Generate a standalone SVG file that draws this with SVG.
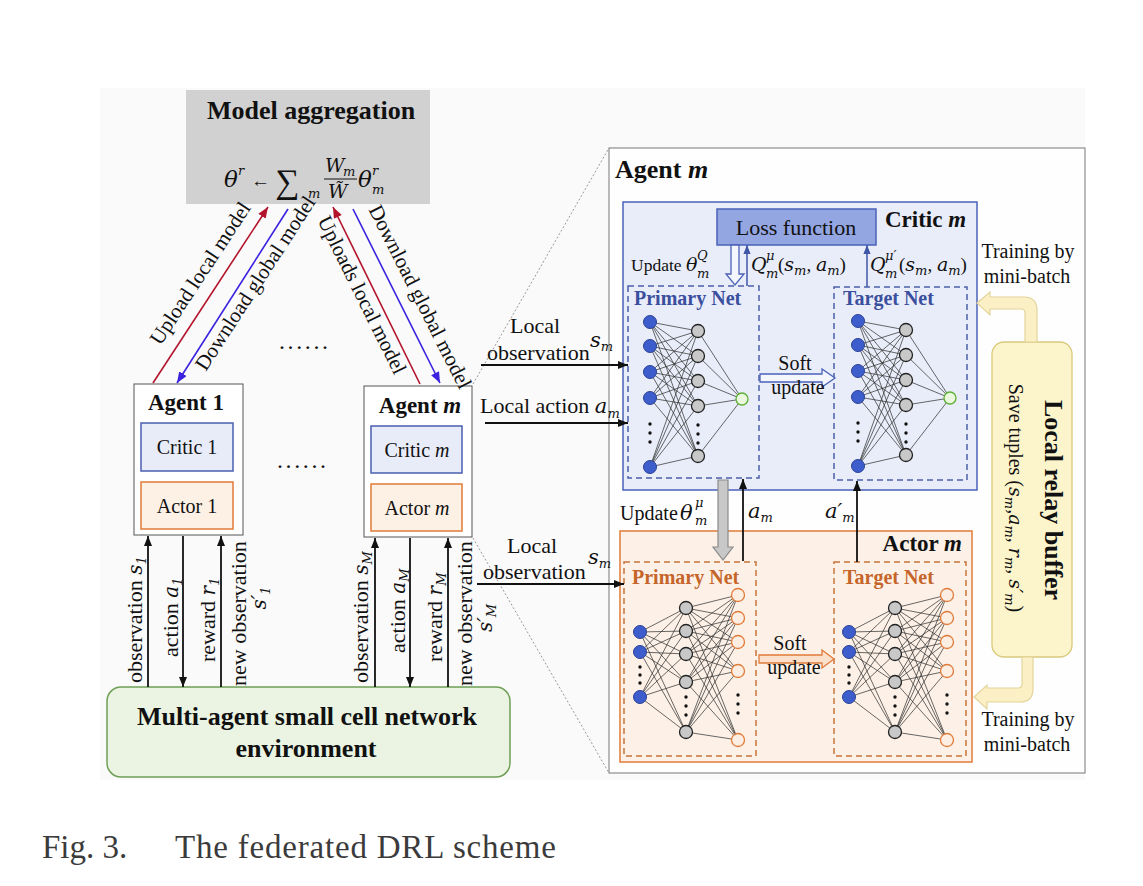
<svg xmlns="http://www.w3.org/2000/svg" width="1143" height="886" viewBox="0 0 1143 886">
<style>
text{font-family:"Liberation Serif","Times New Roman",serif;fill:#111}
.b{font-weight:bold}
.f20{font-size:20px}
.f21{font-size:21px}
.f22{font-size:22px}
.f26{font-size:26px}
.m{font-family:"DejaVu Serif","Liberation Serif",serif;font-style:italic}
.ms{font-family:"DejaVu Serif","Liberation Serif",serif;font-style:italic;font-size:13px}
.nl{stroke:#2a2a2a;stroke-width:0.7;fill:none}
.bn{fill:#3e5dcc;stroke:#2b4296;stroke-width:1}
.gn{fill:#c8c8c8;stroke:#222;stroke-width:1.3}
.grn{fill:#eaf8de;stroke:#5db034;stroke-width:1.3}
.on{fill:#fdeee3;stroke:#e07b39;stroke-width:1.3}
.dot{fill:#111}
.blk{stroke:#111;stroke-width:1.8;fill:none}
.cdash{fill:none;stroke:#4a5fa8;stroke-width:1.5;stroke-dasharray:6 4}
.adash{fill:none;stroke:#c8733a;stroke-width:1.5;stroke-dasharray:6 4}
.cnt{fill:#3a4f9e;font-weight:bold;font-size:20px}
.ant{fill:#c5652a;font-weight:bold;font-size:20px}
</style>
<defs>
<marker id="ah" viewBox="0 0 10 8" refX="10" refY="4" markerWidth="10" markerHeight="8" markerUnits="userSpaceOnUse" orient="auto"><path d="M0 0L10 4L0 8z" fill="#111"/></marker>
<marker id="ahr" viewBox="0 0 10 8" refX="10" refY="4" markerWidth="11" markerHeight="9" markerUnits="userSpaceOnUse" orient="auto"><path d="M0 0L10 4L0 8z" fill="#b3142c"/></marker>
<marker id="ahv" viewBox="0 0 10 8" refX="10" refY="4" markerWidth="11" markerHeight="9" markerUnits="userSpaceOnUse" orient="auto"><path d="M0 0L10 4L0 8z" fill="#3b22e0"/></marker>
<marker id="ahc" viewBox="0 0 10 8" refX="10" refY="4" markerWidth="9" markerHeight="8" markerUnits="userSpaceOnUse" orient="auto"><path d="M0 0L10 4L0 8z" fill="#3f56a8"/></marker>
<g id="cnet">
<path class="nl" d="M650 322L698 331M650 322L698 356M650 322L698 381M650 322L698 406M650 322L698 456M650 346L698 331M650 346L698 356M650 346L698 381M650 346L698 406M650 346L698 456M650 372L698 331M650 372L698 356M650 372L698 381M650 372L698 406M650 372L698 456M650 398L698 331M650 398L698 356M650 398L698 381M650 398L698 406M650 398L698 456M650 467L698 331M650 467L698 356M650 467L698 381M650 467L698 406M650 467L698 456M698 331L742 399M698 356L742 399M698 381L742 399M698 406L742 399M698 456L742 399"/>
<circle class="bn" cx="650" cy="322" r="6.5"/><circle class="bn" cx="650" cy="346" r="6.5"/><circle class="bn" cx="650" cy="372" r="6.5"/><circle class="bn" cx="650" cy="398" r="6.5"/><circle class="bn" cx="650" cy="467" r="6.5"/>
<circle class="dot" cx="650" cy="424" r="1.7"/><circle class="dot" cx="650" cy="433" r="1.7"/><circle class="dot" cx="650" cy="442" r="1.7"/>
<circle class="gn" cx="698" cy="331" r="6.5"/><circle class="gn" cx="698" cy="356" r="6.5"/><circle class="gn" cx="698" cy="381" r="6.5"/><circle class="gn" cx="698" cy="406" r="6.5"/><circle class="gn" cx="698" cy="456" r="6.5"/>
<circle class="dot" cx="698" cy="425" r="1.7"/><circle class="dot" cx="698" cy="434" r="1.7"/><circle class="dot" cx="698" cy="443" r="1.7"/>
<circle class="grn" cx="742" cy="399" r="6"/>
</g>
<g id="anet">
<path class="nl" d="M640 632L686 608M640 632L686 631M640 632L686 654M640 632L686 682M640 632L686 732M640 652L686 608M640 652L686 631M640 652L686 654M640 652L686 682M640 652L686 732M640 697L686 608M640 697L686 631M640 697L686 654M640 697L686 682M640 697L686 732M686 608L738 595M686 608L738 618M686 608L738 642M686 608L738 671M686 608L738 740M686 631L738 595M686 631L738 618M686 631L738 642M686 631L738 671M686 631L738 740M686 654L738 595M686 654L738 618M686 654L738 642M686 654L738 671M686 654L738 740M686 682L738 595M686 682L738 618M686 682L738 642M686 682L738 671M686 682L738 740M686 732L738 595M686 732L738 618M686 732L738 642M686 732L738 671M686 732L738 740"/>
<circle class="bn" cx="640" cy="632" r="6.5"/><circle class="bn" cx="640" cy="652" r="6.5"/><circle class="bn" cx="640" cy="697" r="6.5"/>
<circle class="dot" cx="640" cy="667" r="1.7"/><circle class="dot" cx="640" cy="675" r="1.7"/><circle class="dot" cx="640" cy="683" r="1.7"/>
<circle class="gn" cx="686" cy="608" r="6.5"/><circle class="gn" cx="686" cy="631" r="6.5"/><circle class="gn" cx="686" cy="654" r="6.5"/><circle class="gn" cx="686" cy="682" r="6.5"/><circle class="gn" cx="686" cy="732" r="6.5"/>
<circle class="dot" cx="686" cy="697" r="1.7"/><circle class="dot" cx="686" cy="706" r="1.7"/><circle class="dot" cx="686" cy="715" r="1.7"/>
<circle class="on" cx="738" cy="595" r="6.5"/><circle class="on" cx="738" cy="618" r="6.5"/><circle class="on" cx="738" cy="642" r="6.5"/><circle class="on" cx="738" cy="671" r="6.5"/><circle class="on" cx="738" cy="740" r="6.5"/>
<circle class="dot" cx="738" cy="695" r="1.7"/><circle class="dot" cx="738" cy="704" r="1.7"/><circle class="dot" cx="738" cy="713" r="1.7"/>
</g>
</defs>

<rect x="0" y="0" width="1143" height="886" fill="#fff"/>
<rect x="100" y="88" width="985" height="692" fill="#fafafa"/>

<g id="model-aggregation">
<rect x="186" y="90" width="244" height="114" fill="#d2d1d1"/>
<text x="311" y="119" class="b f26" text-anchor="middle">Model aggregation</text>
<text x="224" y="187" class="m" font-size="23">θ</text>
<text x="238" y="175" class="ms" font-size="15">r</text>
<text x="251" y="187" font-family="DejaVu Sans" font-size="19">←</text>
<text x="275" y="193" font-family="DejaVu Serif" font-size="34">∑</text>
<text x="308" y="198" class="ms" font-size="15">m</text>
<text x="325" y="172" class="m" font-size="19">W</text>
<text x="343" y="176" class="ms" font-size="12">m</text>
<line x1="324" y1="179" x2="357" y2="179" stroke="#111" stroke-width="1"/>
<text x="328" y="198" class="m" font-size="19">W̃</text>
<text x="358" y="187" class="m" font-size="23">θ</text>
<text x="372" y="175" class="ms" font-size="15">r</text>
<text x="372" y="194" class="ms" font-size="15">m</text>
</g>

<g id="dots-top"><text x="279" y="349" font-size="24" letter-spacing="2.6">......</text></g>
<g id="dots-mid"><text x="277" y="468" font-size="24" letter-spacing="2.6">......</text></g>

<g id="agent-1">
<rect x="134" y="384" width="109" height="151" fill="#fff" stroke="#555" stroke-width="1"/>
<text x="186" y="410" class="b" font-size="23" text-anchor="middle">Agent 1</text>
<rect x="141" y="423" width="92" height="48" fill="#e8ecf8" stroke="#4a5fb0" stroke-width="1.5"/>
<text x="187" y="454" class="f20" text-anchor="middle">Critic 1</text>
<rect x="141" y="482" width="92" height="47" fill="#fdf0e4" stroke="#e07b39" stroke-width="1.5"/>
<text x="187" y="513" class="f20" text-anchor="middle">Actor 1</text>
</g>

<g id="agent-m-small">
<rect x="364" y="386" width="108" height="151" fill="#fff" stroke="#555" stroke-width="1"/>
<text x="420" y="413" class="b" font-size="23" text-anchor="middle">Agent <tspan font-style="italic">m</tspan></text>
<rect x="371" y="426" width="91" height="47" fill="#e8ecf8" stroke="#4a5fb0" stroke-width="1.5"/>
<text x="417" y="457" class="f20" text-anchor="middle">Critic <tspan font-style="italic">m</tspan></text>
<rect x="371" y="484" width="91" height="47" fill="#fdf0e4" stroke="#e07b39" stroke-width="1.5"/>
<text x="417" y="515" class="f20" text-anchor="middle">Actor <tspan font-style="italic">m</tspan></text>
</g>

<g id="environment">
<rect x="107" y="687" width="403" height="90" rx="14" fill="#ebf4e3" stroke="#6f9f55" stroke-width="1.5"/>
<text x="307" y="725" class="b f26" text-anchor="middle">Multi-agent small cell network</text>
<text x="306" y="757" class="b f26" text-anchor="middle">environment</text>
</g>

<g id="agent-m-detail">
<rect x="609" y="148" width="476" height="625" fill="#fefefe" stroke="#777" stroke-width="1"/>
<text x="615" y="178" class="b f26">Agent <tspan font-style="italic">m</tspan></text>
</g>

<g id="critic-m">
<rect x="623" y="202" width="354" height="288" fill="#e9edf9" stroke="#4a62b8" stroke-width="1.5"/>
<text x="885" y="227" class="b" font-size="23">Critic <tspan font-style="italic">m</tspan></text>
</g>

<g id="loss-function">
<rect x="717" y="209" width="159" height="36" fill="#93a6e2" stroke="#4a62b8" stroke-width="1.5"/>
<text x="796" y="235" class="f22" text-anchor="middle">Loss function</text>
</g>

<g id="critic-primary-net">
<rect x="628" y="286" width="131" height="192" class="cdash"/>
<text x="634" y="305" class="cnt">Primary Net</text>
<use href="#cnet"/>
</g>

<g id="critic-target-net">
<rect x="834" y="287" width="133" height="193" class="cdash"/>
<text x="843" y="305" class="cnt">Target Net</text>
<use href="#cnet" x="208" y="-1"/>
</g>

<g id="actor-m">
<rect x="620" y="531" width="352" height="231" fill="#fdf1e7" stroke="#e07b39" stroke-width="1.5"/>
<text x="962" y="551" class="b" font-size="23" text-anchor="end">Actor <tspan font-style="italic">m</tspan></text>
</g>

<g id="actor-primary-net">
<rect x="624" y="562" width="132" height="194" class="adash"/>
<text x="632" y="584" class="ant">Primary Net</text>
<use href="#anet"/>
</g>

<g id="actor-target-net">
<rect x="834" y="562" width="132" height="194" class="adash"/>
<text x="843" y="584" class="ant">Target Net</text>
<use href="#anet" x="209"/>
</g>

<g id="relay-buffer">
<rect x="992" y="342" width="80" height="315" rx="12" fill="#fcf5cc" stroke="#d9c97c" stroke-width="1.3"/>
<text transform="translate(1045,500) rotate(90)" class="b" font-size="26" text-anchor="middle">Local relay buffer</text>
<text transform="translate(1009,498) rotate(90)" class="f20" text-anchor="middle">Save tuples (<tspan class="m" font-size="19">s</tspan><tspan class="ms" dy="4">m</tspan><tspan dy="-4">,</tspan><tspan class="m" font-size="19">a</tspan><tspan class="ms" dy="4">m</tspan><tspan dy="-4">, </tspan><tspan class="m" font-size="19">r</tspan><tspan class="ms" dy="4">m</tspan><tspan dy="-4">, </tspan><tspan class="m" font-size="19">s′</tspan><tspan class="ms" dy="4">m</tspan><tspan dy="-4">)</tspan></text>
</g>

<g id="connectors">
<line x1="153" y1="383" x2="268" y2="207" stroke="#b3142c" stroke-width="1.6" marker-end="url(#ahr)"/>
<line x1="288" y1="209" x2="177" y2="383" stroke="#3b22e0" stroke-width="1.6" marker-end="url(#ahv)"/>
<line x1="420" y1="384" x2="333" y2="207" stroke="#b3142c" stroke-width="1.6" marker-end="url(#ahr)"/>
<line x1="353" y1="209" x2="440" y2="383" stroke="#3b22e0" stroke-width="1.6" marker-end="url(#ahv)"/>
<text transform="translate(206,277) rotate(-56.7)" class="f21" text-anchor="middle">Upload local model</text>
<text transform="translate(261,287) rotate(-57)" class="f21" text-anchor="middle">Download global model</text>
<text transform="translate(356,298) rotate(63.6)" class="f21" text-anchor="middle">Uploads local model</text>
<text transform="translate(414,300) rotate(63.2)" class="f21" text-anchor="middle">Download global model</text>

<line x1="473" y1="384" x2="609" y2="148" stroke="#9a9a9a" stroke-width="1" stroke-dasharray="2 2"/>
<line x1="473" y1="538" x2="609" y2="773" stroke="#9a9a9a" stroke-width="1" stroke-dasharray="2 2"/>

<line x1="148" y1="687" x2="148" y2="536" class="blk" marker-end="url(#ah)"/>
<line x1="183" y1="536" x2="183" y2="687" class="blk" marker-end="url(#ah)"/>
<line x1="221" y1="687" x2="221" y2="536" class="blk" marker-end="url(#ah)"/>
<text transform="translate(142,683) rotate(-90)" class="f22">observation <tspan class="m" font-size="20">s</tspan><tspan class="ms" font-size="14" dy="4">1</tspan></text>
<text transform="translate(178,657) rotate(-90)" class="f22">action <tspan class="m" font-size="20">a</tspan><tspan class="ms" font-size="14" dy="4">1</tspan></text>
<text transform="translate(215,662) rotate(-90)" class="f22">reward <tspan class="m" font-size="20">r</tspan><tspan class="ms" font-size="14" dy="4">1</tspan></text>
<text transform="translate(246,686) rotate(-90)" class="f22">new observation</text>
<text transform="translate(266,598) rotate(-90)" text-anchor="middle"><tspan class="m" font-size="20">s′</tspan><tspan class="ms" font-size="14" dy="4">1</tspan></text>

<line x1="375" y1="687" x2="375" y2="538" class="blk" marker-end="url(#ah)"/>
<line x1="410" y1="538" x2="410" y2="687" class="blk" marker-end="url(#ah)"/>
<line x1="448" y1="687" x2="448" y2="538" class="blk" marker-end="url(#ah)"/>
<text transform="translate(368,683) rotate(-90)" class="f22">observation <tspan class="m" font-size="20">s</tspan><tspan class="ms" font-size="14" dy="4">M</tspan></text>
<text transform="translate(405,653) rotate(-90)" class="f22">action <tspan class="m" font-size="20">a</tspan><tspan class="ms" font-size="14" dy="4">M</tspan></text>
<text transform="translate(442,662) rotate(-90)" class="f22">reward <tspan class="m" font-size="20">r</tspan><tspan class="ms" font-size="14" dy="4">M</tspan></text>
<text transform="translate(472,686) rotate(-90)" class="f22">new observation</text>
<text transform="translate(492,618) rotate(-90)" text-anchor="middle"><tspan class="m" font-size="20">s′</tspan><tspan class="ms" font-size="14" dy="4">M</tspan></text>

<text x="535" y="333" class="f22" text-anchor="middle">Local</text>
<text x="487" y="360" class="f22">observation</text>
<text x="590" y="347" class="m" font-size="21">s<tspan class="ms" font-size="14" dy="4">m</tspan></text>
<line x1="481" y1="365" x2="628" y2="365" class="blk" marker-end="url(#ah)"/>
<text x="480" y="413" class="f22">Local action <tspan class="m" font-size="21">a</tspan><tspan class="ms" font-size="14" dy="5">m</tspan></text>
<line x1="485" y1="423" x2="628" y2="423" class="blk" marker-end="url(#ah)"/>

<text x="532" y="553" class="f22" text-anchor="middle">Local</text>
<text x="483" y="579" class="f22">observation</text>
<text x="588" y="564" class="m" font-size="21">s<tspan class="ms" font-size="14" dy="4">m</tspan></text>
<line x1="477" y1="584" x2="624" y2="584" class="blk" marker-end="url(#ah)"/>

<text x="631" y="271" font-size="17.5">Update</text>
<text x="686" y="271" class="m" font-size="19">θ</text>
<text x="697" y="260" class="ms" font-size="12">Q</text>
<text x="697" y="278" class="ms">m</text>
<path d="M731 245H739V274H744L735 285L726 274H731Z" fill="#f4f6fd" stroke="#4a62b8" stroke-width="1.3"/>
<line x1="747" y1="286" x2="747" y2="245" stroke="#3f56a8" stroke-width="1.5" marker-end="url(#ahc)"/>
<text x="751" y="271" class="m" font-size="19">Q</text>
<text x="766" y="260" class="ms" font-size="12">μ</text>
<text x="766" y="278" class="ms">m</text>
<text x="778" y="271" font-family="DejaVu Serif" font-size="19">(<tspan class="m">s</tspan><tspan class="ms" dy="4">m</tspan><tspan dy="-4">, </tspan><tspan class="m">a</tspan><tspan class="ms" dy="4">m</tspan><tspan dy="-4">)</tspan></text>
<line x1="867" y1="287" x2="867" y2="245" stroke="#3f56a8" stroke-width="1.5" marker-end="url(#ahc)"/>
<text x="870" y="271" class="m" font-size="19">Q</text>
<text x="885" y="260" class="ms" font-size="12">μ′</text>
<text x="885" y="278" class="ms">m</text>
<text x="899" y="271" font-family="DejaVu Serif" font-size="19">(<tspan class="m">s</tspan><tspan class="ms" dy="4">m</tspan><tspan dy="-4">, </tspan><tspan class="m">a</tspan><tspan class="ms" dy="4">m</tspan><tspan dy="-4">)</tspan></text>
<path d="M760 374H822V369L835 378L822 387V382H760Z" fill="#f4f6fd" stroke="#4a62b8" stroke-width="1.3"/>
<text x="795" y="370" class="f20" text-anchor="middle">Soft</text>
<text x="798" y="394" class="f20" text-anchor="middle">update</text>

<path d="M718 480H728V547H733L723 560L713 547H718Z" fill="#c8c8c8" stroke="#8a8a8a" stroke-width="1.2"/>
<text x="620" y="520" class="f20">Update</text>
<text x="680" y="520" class="m" font-size="21">θ</text>
<text x="695" y="507" class="ms" font-size="14">μ</text>
<text x="695" y="525" class="ms" font-size="14">m</text>
<line x1="743" y1="561" x2="743" y2="479" class="blk" marker-end="url(#ah)"/>
<text x="748" y="518" class="m" font-size="21">a<tspan class="ms" font-size="14" dy="4">m</tspan></text>
<line x1="857" y1="562" x2="857" y2="481" class="blk" marker-end="url(#ah)"/>
<text x="825" y="518" class="m" font-size="21">a′<tspan class="ms" font-size="14" dy="4">m</tspan></text>

<path d="M759 655H822V650L834 659L822 668V663H759Z" fill="#fbe0cc" stroke="#e07b39" stroke-width="1.3"/>
<text x="790" y="650" class="f20" text-anchor="middle">Soft</text>
<text x="794" y="674" class="f20" text-anchor="middle">update</text>

<path d="M1025 342V313Q1025 309 1021 309H990V315L977 303L990 292V297H1024Q1037 297 1037 310V342Z" fill="#fbefc6" stroke="#e3d49a" stroke-width="1.2"/>
<path d="M1022 657V684Q1022 688 1018 688H987V685L974 697L987 709V702H1020Q1033 702 1033 689V657Z" fill="#fbefc6" stroke="#e3d49a" stroke-width="1.2"/>
<text x="1028" y="258" class="f20" text-anchor="middle">Training by</text>
<text x="1027" y="283" class="f20" text-anchor="middle">mini-batch</text>
<text x="1028" y="726" class="f20" text-anchor="middle">Training by</text>
<text x="1027" y="751" class="f20" text-anchor="middle">mini-batch</text>
</g>

<g id="caption">
<text x="42" y="858" font-size="33" style="fill:#3b3b3b">Fig. 3.</text>
<text x="175" y="858" font-size="33" letter-spacing="0.8" style="fill:#3b3b3b">The federated DRL scheme</text>
</g>
</svg>
